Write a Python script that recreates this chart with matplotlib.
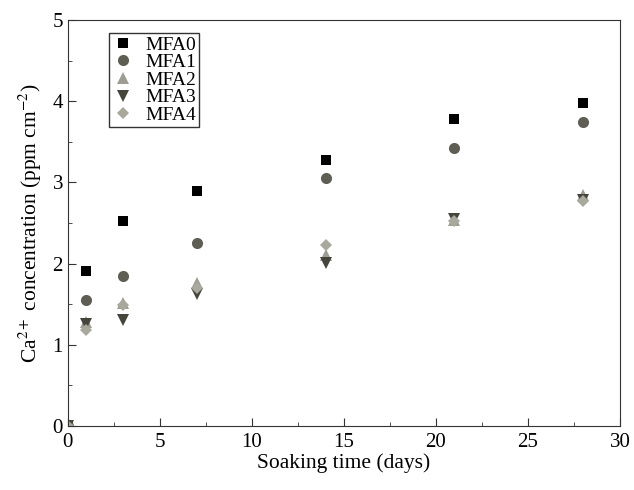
import matplotlib
matplotlib.use("Agg")
import matplotlib.pyplot as plt
from matplotlib.ticker import MultipleLocator

plt.rcParams['font.family'] = ['Liberation Serif', 'DejaVu Serif']
plt.rcParams['mathtext.fontset'] = 'stix'

days = [0, 1, 3, 7, 14, 21, 28]
mfa0 = [0, 1.91, 2.52, 2.89, 3.28, 3.78, 3.98]
mfa1 = [0, 1.55, 1.85, 2.25, 3.05, 3.42, 3.74]
mfa2 = [0, 1.28, 1.51, 1.76, 2.11, 2.54, 2.85]
mfa3 = [0, 1.26, 1.31, 1.63, 2.01, 2.55, 2.78]
mfa4 = [0, 1.18, 1.49, 1.70, 2.23, 2.52, 2.77]

series = [
    ("MFA0", mfa0, "s", "#000000", 7),
    ("MFA1", mfa1, "o", "#5e5e55", 8),
    ("MFA2", mfa2, "^", "#9d9d93", 8),
    ("MFA3", mfa3, "v", "#45453c", 8),
    ("MFA4", mfa4, "D", "#a8a89d", 6.5),
]

fig = plt.figure(figsize=(6.34, 4.9), dpi=100)
ax = fig.add_axes([0.107, 0.131, 0.871, 0.828])

for name, vals, m, c, s in series:
    ax.plot(days, vals, linestyle="none", marker=m, color=c, markersize=s,
            markeredgewidth=0, label=name)

ax.set_xlim(0, 30)
ax.set_ylim(0, 5)
ax.xaxis.set_major_locator(MultipleLocator(5))
ax.xaxis.set_minor_locator(MultipleLocator(2.5))
ax.yaxis.set_major_locator(MultipleLocator(1))
ax.yaxis.set_minor_locator(MultipleLocator(0.5))
ax.tick_params(which="both", direction="in", labelsize=15, top=False, right=False,
               color="#333333")
ax.tick_params(which="major", length=6)
ax.tick_params(which="minor", length=3)
ax.tick_params(axis="x", pad=5)
for sp in ax.spines.values():
    sp.set_color("#333333")

ax.set_xlabel("Soaking time (days)", fontsize=15.5, labelpad=1)
ax.set_ylabel(r"Ca$^{2+}$ concentration (ppm cm$^{-2}$)", fontsize=15.5, labelpad=6)

leg = ax.legend(loc="upper left", bbox_to_anchor=(0.074, 0.968), fontsize=14,
                frameon=True, fancybox=False, handletextpad=0.55,
                borderpad=0.15, labelspacing=0.0, handlelength=1.2,
                borderaxespad=0)
leg.get_frame().set_edgecolor("black")
leg.get_frame().set_linewidth(1.0)

fig.savefig("out.png", dpi=100)
